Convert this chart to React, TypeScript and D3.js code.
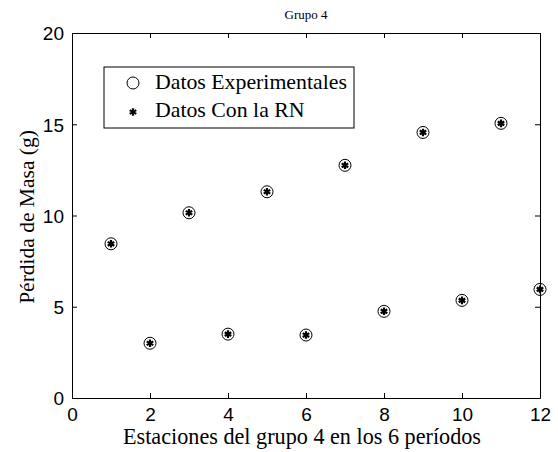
import { useEffect, useRef } from 'react'
import * as d3 from 'd3'

// Estaciones del grupo 4 (x) y pérdida de masa en g
const stations = [1, 2, 3, 4, 5, 6, 7, 8, 9, 10, 11, 12]
const experimental = [8.45, 3.0, 10.15, 3.5, 11.3, 3.45, 12.75, 4.75, 14.55, 5.35, 15.05, 5.95]
const predicted = [8.45, 3.0, 10.15, 3.5, 11.3, 3.45, 12.75, 4.75, 14.55, 5.35, 15.05, 5.95]
const xTicks = [0, 2, 4, 6, 8, 10, 12]
const yTicks = [0, 5, 10, 15, 20]
const legendLabels = ['Datos Experimentales', 'Datos Con la RN']

const SERIF = "'Liberation Serif', 'DejaVu Serif', serif"
const SANS = "'Liberation Sans', Arial, sans-serif"

export default function App() {
  const svgRef = useRef<SVGSVGElement>(null)

  useEffect(() => {
    const svg = d3.select(svgRef.current)
    svg.selectAll('*').remove()

    const width = 558
    const height = 452
    const margin = { top: 33, right: 18, bottom: 54, left: 72 }
    const innerW = width - margin.left - margin.right
    const innerH = height - margin.top - margin.bottom

    svg.attr('width', width).attr('height', height)
    svg.append('rect').attr('width', width).attr('height', height).attr('fill', '#fff')

    const g = svg.append('g').attr('transform', `translate(${margin.left},${margin.top})`)

    const x = d3.scaleLinear().domain([0, 12]).range([0, innerW])
    const y = d3.scaleLinear().domain([0, 20]).range([innerH, 0])

    const tickLen = 5
    const styleAxis = (ax: d3.Selection<SVGGElement, unknown, null, undefined>) => {
      ax.select('.domain').attr('stroke', '#000').attr('stroke-width', 1)
      ax.selectAll('.tick line').attr('stroke', '#000')
      ax.selectAll('text')
        .attr('fill', '#000')
        .style('font-family', SANS)
        .attr('font-size', '19px')
    }

    // bottom
    g.append('g')
      .attr('transform', `translate(0,${innerH})`)
      .call(d3.axisBottom(x).tickValues(xTicks).tickSizeInner(-tickLen).tickSizeOuter(0).tickFormat(d3.format('d')))
      .call(styleAxis)
      .call(ax => ax.selectAll('text').attr('dy', '0.71em').attr('y', 10))
    // top
    g.append('g')
      .call(d3.axisTop(x).tickValues(xTicks).tickSizeInner(-tickLen).tickSizeOuter(0).tickFormat(() => ''))
      .call(styleAxis)
    // left
    g.append('g')
      .call(d3.axisLeft(y).tickValues(yTicks).tickSizeInner(-tickLen).tickSizeOuter(0).tickFormat(d3.format('d')))
      .call(styleAxis)
      .call(ax => ax.selectAll('text').attr('x', -8).attr('dy', '0.36em'))
    // right
    g.append('g')
      .attr('transform', `translate(${innerW},0)`)
      .call(d3.axisRight(y).tickValues(yTicks).tickSizeInner(-tickLen).tickSizeOuter(0).tickFormat(() => ''))
      .call(styleAxis)

    // Data: circles (experimental) and asterisks (network)
    const star = d3.symbol(d3.symbolAsterisk, 40)
    g.selectAll('circle.exp')
      .data(stations)
      .join('circle')
      .attr('class', 'exp')
      .attr('cx', (d) => x(d))
      .attr('cy', (_, i) => y(experimental[i]))
      .attr('r', 6)
      .attr('fill', 'none')
      .attr('stroke', '#000')
      .attr('stroke-width', 1)
    g.selectAll('path.rn')
      .data(stations)
      .join('path')
      .attr('class', 'rn')
      .attr('d', star()!)
      .attr('transform', (d, i) => `translate(${x(d)},${y(predicted[i])})`)
      .attr('fill', 'none')
      .attr('stroke', '#000')
      .attr('stroke-width', 2.2)

    // Legend
    const lg = g.append('g').attr('transform', `translate(${104 - margin.left},${67 - margin.top})`)
    lg.append('rect').attr('width', 250).attr('height', 61).attr('fill', '#fff').attr('stroke', '#000').attr('stroke-width', 1)
    lg.append('circle').attr('cx', 29).attr('cy', 16).attr('r', 6).attr('fill', 'none').attr('stroke', '#000')
    lg.append('path').attr('d', star()!).attr('transform', 'translate(29,45)').attr('fill', 'none').attr('stroke', '#000').attr('stroke-width', 2.2)
    lg.selectAll('text')
      .data(legendLabels)
      .join('text')
      .attr('x', 51)
      .attr('y', (_, i) => 22 + i * 28)
      .style('font-family', SERIF)
      .attr('font-size', '21.8px')
      .attr('fill', '#000')
      .text(d => d)

    // Title and axis labels
    svg.append('text')
      .attr('x', margin.left + innerW / 2)
      .attr('y', 19)
      .attr('text-anchor', 'middle')
      .style('font-family', SERIF)
      .attr('font-size', '13px')
      .text('Grupo 4')
    svg.append('text')
      .attr('x', 302)
      .attr('y', 444)
      .attr('text-anchor', 'middle')
      .style('font-family', SERIF)
      .attr('font-size', '22.2px')
      .text('Estaciones del grupo 4 en los 6 períodos')
    svg.append('text')
      .attr('transform', `translate(34,217) rotate(-90)`)
      .attr('text-anchor', 'middle')
      .style('font-family', SERIF)
      .attr('font-size', '21.5px')
      .text('Pérdida de Masa (g)')
  }, [])

  return <svg ref={svgRef} style={{ display: 'block', position: 'absolute', left: 0, top: 0 }} />
}
